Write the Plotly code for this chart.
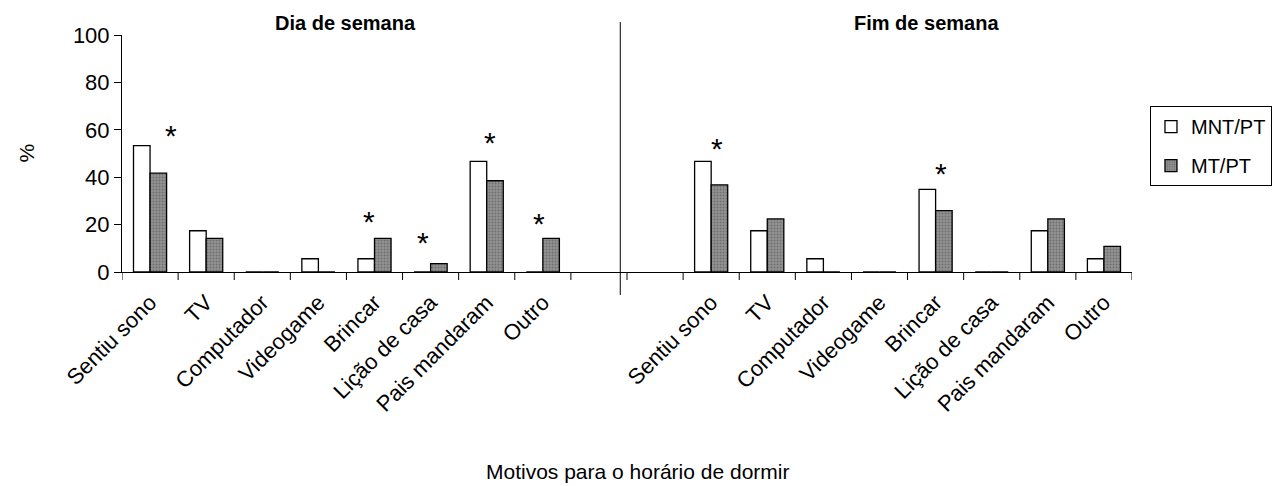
import plotly.graph_objects as go

categories = ["Sentiu sono", "TV", "Computador", "Videogame", "Brincar",
              "Lição de casa", "Pais mandaram", "Outro"]
series_names = ["MNT/PT", "MT/PT"]
dia_mnt = [53.3, 17.4, 0, 5.6, 5.6, 0, 46.7, 0]
dia_mt = [41.7, 14.2, 0, 0, 14.2, 3.5, 38.5, 14.2]
fim_mnt = [46.7, 17.4, 5.6, 0, 34.9, 0, 17.4, 5.6]
fim_mt = [36.8, 22.4, 0, 0, 25.9, 0, 22.4, 10.8]
y_ticks = [0, 20, 40, 60, 80, 100]
# significance markers: (group, category index, offset, height)
stars = [("dia", 0, 0.37, 57.8), ("dia", 4, -0.09, 21.2), ("dia", 5, -0.13, 12.4),
         ("dia", 6, 0.06, 54.6), ("dia", 7, -0.06, 20.5),
         ("fim", 0, 0.10, 52.0), ("fim", 4, 0.09, 41.6)]

n = len(categories)
# unique category keys for the shared x axis: weekday block, two empty slots, weekend block
keys_dia = ["dia|" + c for c in categories]
keys_fim = ["fim|" + c for c in categories]
keys_gap = ["gap|1", "gap|2"]
all_keys = keys_dia + keys_gap + keys_fim
all_text = categories + ["", ""] + categories
group_start = {"dia": 0, "fim": n + 2}

FONT = "Liberation Sans, Arial, sans-serif"

fig = go.Figure()
fig.add_trace(go.Bar(
    x=keys_dia + keys_fim, y=dia_mnt + fim_mnt, name=series_names[0], legendgroup="a",
    marker=dict(color="white", line=dict(color="black", width=1.3)),
))
fig.add_trace(go.Bar(
    x=keys_dia + keys_fim, y=dia_mt + fim_mt, name=series_names[1], legendgroup="b",
    marker=dict(color="#8a8a8a", line=dict(color="black", width=1.3),
                pattern=dict(shape=".", fgcolor="#4a4a4a", bgcolor="#939393",
                             size=3, solidity=0.35)),
))

for g, i, off, h in stars:
    fig.add_annotation(x=group_start[g] + i + off, y=h, xref="x", yref="y",
                       text="*", showarrow=False,
                       font=dict(size=30, color="black", family=FONT),
                       xanchor="center", yanchor="middle")

# group titles
fig.add_annotation(x=0.221, y=1.051, xref="paper", yref="paper", text="<b>Dia de semana</b>",
                   showarrow=False, xanchor="center", yanchor="middle",
                   font=dict(size=20, color="black", family=FONT))
fig.add_annotation(x=0.797, y=1.051, xref="paper", yref="paper", text="<b>Fim de semana</b>",
                   showarrow=False, xanchor="center", yanchor="middle",
                   font=dict(size=20, color="black", family=FONT))
# axis titles
fig.add_annotation(x=0.51, y=-0.84, xref="paper", yref="paper", text="Motivos para o horário de dormir",
                   showarrow=False, xanchor="center", yanchor="middle",
                   font=dict(size=21, color="black", family=FONT))
fig.add_annotation(x=-0.095, y=0.5, xref="paper", yref="paper", text="%", textangle=-90,
                   showarrow=False, xanchor="center", yanchor="middle",
                   font=dict(size=21, color="black", family=FONT))

# separator between weekday / weekend
fig.add_shape(type="line", xref="x", yref="paper", x0=8.38, x1=8.38, y0=-0.097, y1=1.055,
              line=dict(color="black", width=1))
# category-boundary tick marks on the x axis (Excel style)
for b in range(len(all_keys) + 1):
    fig.add_shape(type="line", xref="x", yref="paper", x0=b - 0.5, x1=b - 0.5,
                  y0=0, y1=-8 / 237, line=dict(color="black", width=1))

fig.update_layout(
    width=1274, height=486,
    margin=dict(l=122, r=142, t=35, b=214, autoexpand=False),
    plot_bgcolor="white", paper_bgcolor="white",
    barmode="group", bargap=0.41, bargroupgap=0,
    font=dict(family=FONT, size=21, color="black"),
    legend=dict(x=1.0178, y=0.70, xanchor="left", yanchor="top",
                bordercolor="black", borderwidth=1, traceorder="grouped",
                tracegroupgap=10, font=dict(size=20)),
    xaxis=dict(type="category", categoryorder="array", categoryarray=all_keys,
               range=[-0.5, len(all_keys) - 0.5],
               tickmode="array", tickvals=all_keys, ticktext=all_text, tickangle=-45,
               ticks="outside", ticklen=8, tickcolor="rgba(0,0,0,0)",
               showline=True, linecolor="black", linewidth=1,
               showgrid=False, zeroline=False, tickfont=dict(size=22)),
    yaxis=dict(range=[0, 100], tickmode="array", tickvals=y_ticks, ticks="outside",
               ticklen=7, tickcolor="black", showline=True, linecolor="black",
               linewidth=1, showgrid=False, zeroline=False, tickfont=dict(size=22)),
)

fig.write_html("out.html")
